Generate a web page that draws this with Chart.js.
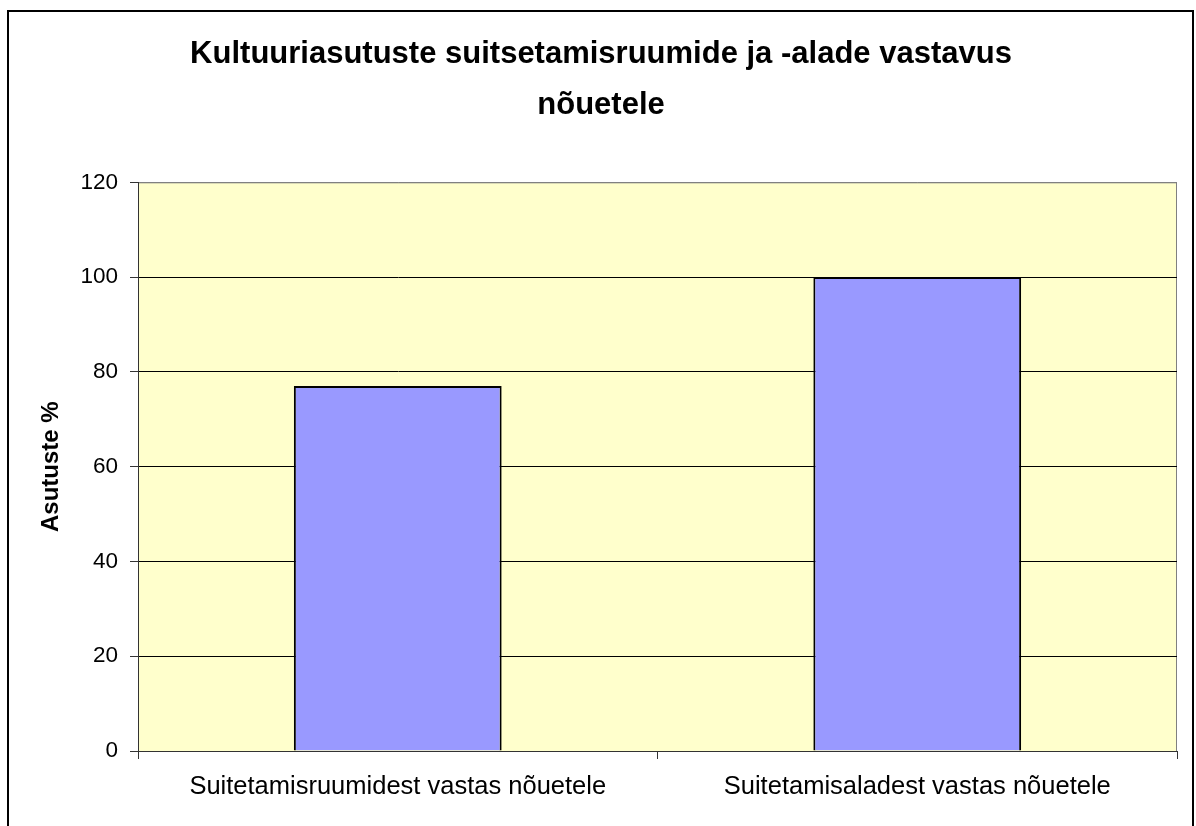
<!DOCTYPE html>
<html>
<head>
<meta charset="utf-8">
<script src="https://cdn.jsdelivr.net/npm/chart.js@4/dist/chart.umd.min.js"></script>
<style>
  html, body { margin: 0; padding: 0; background: #fff; }
  #wrap { width: 1196px; height: 826px; }
</style>
</head>
<body>
<div id="wrap"><canvas id="chart" width="1196" height="826"></canvas></div>
<script>
// andmed
const categories = ['Suitetamisruumidest vastas nõuetele', 'Suitetamisaladest vastas nõuetele'];
const values = [77, 100];
const titleLines = ['Kultuuriasutuste suitsetamisruumide ja -alade vastavus', 'nõuetele'];
const yTitle = 'Asutuste %';
const yMin = 0, yMax = 120, yStep = 20;

// välimine raam + kollane joonisala taust
const frame = {
	id: 'frame',
	beforeDraw(chart) {
		const c = chart.ctx;
		const a = chart.chartArea;
		c.save();
		c.fillStyle = '#fff';
		c.fillRect(0, 0, chart.width, chart.height);
		c.strokeStyle = '#000';
		c.lineWidth = 2;
		c.strokeRect(8, 11, 1185, 840);
		c.fillStyle = '#FFFFCC';
		c.fillRect(a.left, a.top, a.right - a.left, a.bottom - a.top);
		c.strokeStyle = '#808080';
		c.lineWidth = 1;
		c.strokeRect(a.left + 0.5, a.top + 0.5, a.right - a.left - 1, a.bottom - a.top);
		c.restore();
	}
};

new Chart(document.getElementById('chart'), {
	type: 'bar',
	data: {
		labels: categories,
		datasets: [{
			data: values,
			backgroundColor: '#9999FF',
			borderColor: '#000',
			borderWidth: 2,
			barPercentage: 0.4,
			categoryPercentage: 1
		}]
	},
	options: {
		responsive: false,
		animation: false,
		layout: { padding: { left: 25, right: 19, top: 0, bottom: 0 } },
		plugins: {
			legend: { display: false },
			tooltip: { enabled: false },
			title: {
				display: true,
				text: titleLines,
				color: '#000',
				font: { family: 'Liberation Sans, Arial', size: 31, weight: 'bold', lineHeight: 1.65 },
				padding: { top: 29, bottom: 51 }
			}
		},
		scales: {
			x: {
				offset: true,
				grid: {
					offset: true,
					drawOnChartArea: false,
					tickLength: 8,
					tickColor: '#333',
					color: '#333'
				},
				border: { color: '#333', width: 1 },
				ticks: {
					color: '#000',
					padding: 13,
					maxRotation: 0,
					font: { family: 'Liberation Sans, Arial', size: 25.5 }
				},
				afterFit(s) { s.height = 75; }
			},
			y: {
				min: yMin,
				max: yMax,
				ticks: {
					stepSize: yStep,
					color: '#000',
					padding: 12,
					font: { family: 'Liberation Sans, Arial', size: 22.5 }
				},
				grid: {
					tickLength: 8,
					color: (ctx) => ctx.tick && ctx.tick.value === yMax ? '#808080' : '#000',
					tickColor: '#333'
				},
				border: { color: '#333', width: 1 },
				title: {
					display: true,
					text: yTitle,
					color: '#000',
					padding: { top: 12, bottom: 0 },
					font: { family: 'Liberation Sans, Arial', size: 24, weight: 'bold' }
				},
				afterFit(s) { s.width = 113; }
			}
		}
	},
	plugins: [frame]
});
</script>
</body>
</html>
